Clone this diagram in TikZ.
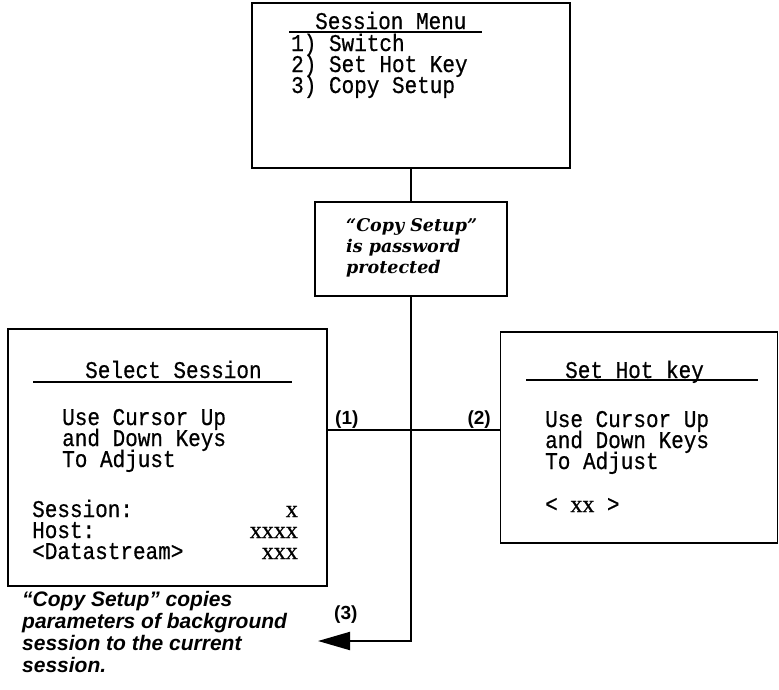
\documentclass[tikz,border=0pt]{standalone}
\usepackage{fontspec}
\usetikzlibrary{arrows.meta}
\newfontfamily\monof[FakeStretch=0.875,FakeBold=0.6]{Liberation Mono}
\newfontfamily\serf[FakeBold=0.6]{Liberation Serif}
\newfontfamily\notef{DejaVu Serif}
\newfontfamily\labf{Liberation Sans}
\begin{document}
\begin{tikzpicture}[x=1pt,y=-1pt,
  box/.style={draw=black,line width=1.6pt,rectangle,inner sep=0pt,anchor=center},
  mono/.style={inner sep=0pt,text height=13pt,text depth=3pt,font=\monof\fontsize{24}{21}\selectfont},
  monoL/.style={mono,anchor=base west},
  xval/.style={inner sep=0pt,anchor=base east,text height=11pt,text depth=0pt,font=\serf\fontsize{24}{24}\selectfont},
  note/.style={inner sep=0pt,anchor=base west,text height=13pt,text depth=4pt,font=\notef\bfseries\itshape\fontsize{17.5}{18}\selectfont},
  lbl/.style={inner sep=0pt,font=\labf\bfseries\fontsize{19}{19}\selectfont},
  cmt/.style={inner sep=0pt,anchor=base west,text height=15pt,text depth=4pt,font=\labf\bfseries\itshape\fontsize{21}{21}\selectfont},
  uline/.style={line width=1.8pt},
  conn/.style={line width=2pt}]
\useasboundingbox (0,0) rectangle (779,689);

% boxes
\node[box,minimum width=318pt,minimum height=165pt] (menu) at (411,85.5) {};
\node[box,minimum width=192pt,minimum height=94pt] (copy) at (411,249) {};
\node[box,minimum width=319pt,minimum height=257pt] (select) at (167.5,457.5) {};
\node[box,minimum width=277pt,minimum height=211pt] (hotkey) at (639,437.5) {};

% menu text
\node[monoL] (mt) at (315,29) {Session Menu};
\draw[uline] (289,32) coordinate (mu1) -- (482,32) coordinate (mu2);
\node[monoL] (m1) at (291,51) {1) Switch};
\node[monoL] (m2) at (291,72) {2) Set Hot Key};
\node[monoL] (m3) at (291,93) {3) Copy Setup};

% copy setup note
\node[note] (c1) at (346,231) {“Copy Setup”};
\node[note] (c2) at (346,252) {is password};
\node[note] (c3) at (346,273) {protected};

% select session
\node[monoL] (st) at (85,378) {Select Session};
\draw[uline] (33,382) coordinate (su1) -- (292,382) coordinate (su2);
\node[monoL] (s1) at (62,425) {Use Cursor Up};
\node[monoL] (s2) at (62,446) {and Down Keys};
\node[monoL] (s3) at (62,467) {To Adjust};
\node[monoL] (s4) at (32,517) {Session:};
\node[monoL] (s5) at (32,538) {Host:};
\node[monoL] (s6) at (32,559) {<Datastream>};
\node[xval] (v4) at (298,517) {x};
\node[xval] (v5) at (298,538) {xxxx};
\node[xval] (v6) at (298,559) {xxx};

% set hot key
\node[monoL] (ht) at (565,378) {Set Hot key};
\draw[uline] (526,380) coordinate (hu1) -- (758,380) coordinate (hu2);
\node[monoL] (h1) at (545,427) {Use Cursor Up};
\node[monoL] (h2) at (545,448) {and Down Keys};
\node[monoL] (h3) at (545,469) {To Adjust};
\node[monoL] (h4) at (545,512) {<~{\serf\fontsize{24}{24}\selectfont xx}~>};

% connectors
\draw[conn] (menu.south) -- (copy.north);
\coordinate (hl) at (327,430);
\coordinate (hr) at (500,430);
\draw[conn] (select.east |- hl) -- (hotkey.west |- hr);
\coordinate (corner) at (411,641);
\coordinate (tip) at (318,641);
\draw[conn,-{Triangle[length=32pt,width=18pt]}] (copy.south) -- (corner) -- (tip);

% labels
\node[lbl,anchor=base west] (l1) at (335,424) {(1)};
\node[lbl,anchor=base east] (l2) at (491,424) {(2)};
\node[lbl,anchor=base west] (l3) at (334,619) {(3)};

% comment
\node[cmt] (k1) at (22,606) {“Copy Setup” copies};
\node[cmt] (k2) at (22,628) {parameters of background};
\node[cmt] (k3) at (22,650) {session to the current};
\node[cmt] (k4) at (22,672) {session.};
\end{tikzpicture}
\end{document}
